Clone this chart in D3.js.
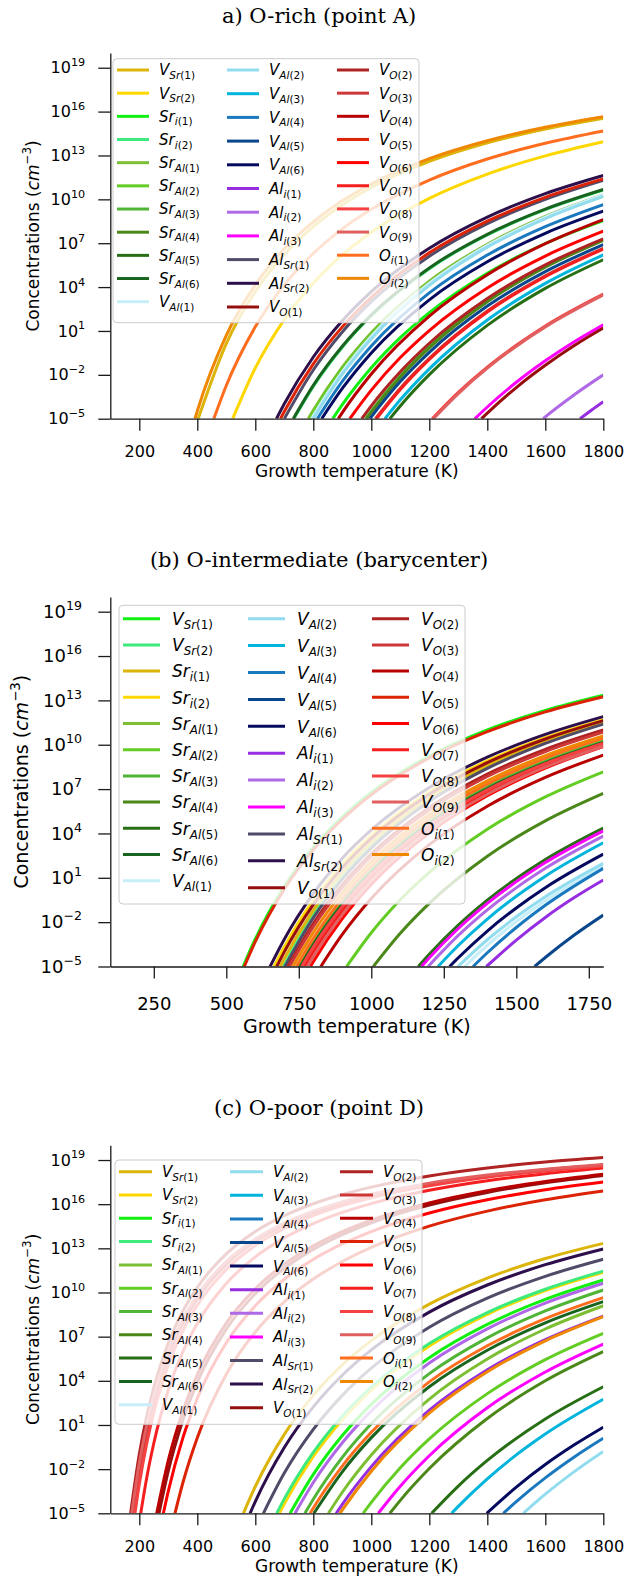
<!DOCTYPE html>
<html>
<head>
<meta charset="utf-8">
<script src="https://cdn.jsdelivr.net/npm/d3@7"></script>
<style>
  body { margin: 0; background: #fff; }
  text { font-family: "DejaVu Sans", sans-serif; }
</style>
</head>
<body>
<div id="chart"></div>
<script>

// defect labels: [main symbol, subscript letters, subscript index]
var defectLabels = [
  ['V','Sr','(1)'], ['V','Sr','(2)'], ['Sr','i','(1)'], ['Sr','i','(2)'],
  ['Sr','Al','(1)'], ['Sr','Al','(2)'], ['Sr','Al','(3)'], ['Sr','Al','(4)'], ['Sr','Al','(5)'], ['Sr','Al','(6)'],
  ['V','Al','(1)'], ['V','Al','(2)'], ['V','Al','(3)'], ['V','Al','(4)'], ['V','Al','(5)'], ['V','Al','(6)'],
  ['Al','i','(1)'], ['Al','i','(2)'], ['Al','i','(3)'], ['Al','Sr','(1)'], ['Al','Sr','(2)'],
  ['V','O','(1)'], ['V','O','(2)'], ['V','O','(3)'], ['V','O','(4)'], ['V','O','(5)'],
  ['V','O','(6)'], ['V','O','(7)'], ['V','O','(8)'], ['V','O','(9)'],
  ['O','i','(1)'], ['O','i','(2)']
];

// colours for panels a and c
var colorsAC = [
  '#dcb40a', '#ffd700', '#12f012', '#3deb7d',
  '#7dbf32', '#64cd23', '#50b437', '#4b8719', '#286e14', '#19641e',
  '#c8eef8', '#91dcee', '#00b4dc', '#1978be', '#0a468c', '#050a5f',
  '#962de1', '#af69e6', '#ff00ff', '#504b69', '#2d0f4b',
  '#960f0f', '#af2323', '#cd3737', '#b90000', '#dc2305',
  '#ff0000', '#f51e1e', '#f54141', '#e15f5f',
  '#ff6e1e', '#f08700'
];
// panel b swaps the first four colours
var colorsB = ['#12f012', '#3deb7d', '#dcb40a', '#ffd700'].concat(colorsAC.slice(4));

var panelTitles = ['a) O-rich (point A)', '(b) O-intermediate (barycenter)', '(c) O-poor (point D)'];
var tempTicksAC = [200, 400, 600, 800, 1000, 1200, 1400, 1600, 1800];
var tempTicksB = [250, 500, 750, 1000, 1250, 1500, 1750];
var concTickExps = [-5, -2, 1, 4, 7, 10, 13, 16, 19];

// curves: [temperature K, log10 concentration], legend order
var orichCurves = [
  [[403,-5],[500,0.14],[600,3.69],[700,6.23],[800,8.14],[900,9.62],[1000,10.81],[1200,12.59],[1400,13.86],[1600,14.81],[1800,15.55]],
  [[522,-5],[600,-1.53],[700,1.78],[800,4.27],[900,6.2],[1000,7.75],[1200,10.07],[1400,11.73],[1600,12.97],[1800,13.94]],
  [[867,-5],[900,-4.04],[1000,-1.52],[1100,0.54],[1200,2.25],[1400,4.95],[1600,6.98],[1800,8.55]],
  [[733,-5],[800,-2.79],[900,-0.11],[1000,2.04],[1200,5.26],[1400,7.56],[1600,9.29],[1800,10.63]],
  [[783,-5],[800,-4.43],[900,-1.48],[1000,0.88],[1200,4.41],[1400,6.93],[1600,8.83],[1800,10.3]],
  [[788,-5],[800,-4.59],[900,-1.63],[1000,0.74],[1200,4.29],[1400,6.83],[1600,8.74],[1800,10.22]],
  [[980,-5],[1000,-4.46],[1100,-2.06],[1200,-0.06],[1400,3.08],[1600,5.44],[1800,7.27]],
  [[984,-5],[1000,-4.57],[1100,-2.16],[1200,-0.16],[1400,3.0],[1600,5.36],[1800,7.2]],
  [[1064,-5],[1100,-4.13],[1200,-1.99],[1400,1.38],[1600,3.91],[1800,5.87]],
  [[731,-5],[800,-2.72],[900,-0.05],[1000,2.1],[1200,5.31],[1400,7.61],[1600,9.33],[1800,10.67]],
  [[794,-5],[800,-4.8],[900,-1.78],[1000,0.64],[1200,4.26],[1400,6.85],[1600,8.79],[1800,10.3]],
  [[800,-5],[900,-1.96],[1000,0.47],[1200,4.12],[1400,6.73],[1600,8.68],[1800,10.2]],
  [[1047,-5],[1100,-3.71],[1200,-1.59],[1400,1.75],[1600,4.25],[1800,6.2]],
  [[814,-5],[900,-2.45],[1000,-0.03],[1200,3.6],[1400,6.19],[1600,8.13],[1800,9.64]],
  [[995,-5],[1000,-4.87],[1100,-2.46],[1200,-0.46],[1400,2.7],[1600,5.06],[1800,6.9]],
  [[829,-5],[900,-2.93],[1000,-0.5],[1200,3.13],[1400,5.73],[1600,7.68],[1800,9.19]],
  [[1720,-5],[1760,-4.41],[1800,-3.84]],
  [[1593,-5],[1600,-4.88],[1700,-3.36],[1800,-2.0]],
  [[1357,-5],[1400,-4.2],[1500,-2.51],[1600,-1.04],[1700,0.26],[1800,1.42]],
  [[700,-5],[800,-1.67],[900,0.93],[1000,3.0],[1200,6.11],[1400,8.34],[1600,10.0],[1800,11.3]],
  [[673,-5],[700,-3.98],[800,-0.78],[900,1.7],[1000,3.69],[1200,6.66],[1400,8.79],[1600,10.39],[1800,11.63]],
  [[1380,-5],[1400,-4.62],[1500,-2.87],[1600,-1.35],[1700,0.0],[1800,1.2]],
  [[967,-5],[1000,-4.12],[1100,-1.79],[1200,0.16],[1400,3.22],[1600,5.52],[1800,7.3]],
  [[1014,-5],[1100,-2.91],[1200,-0.87],[1400,2.36],[1600,4.77],[1800,6.65]],
  [[886,-5],[900,-4.58],[1000,-1.94],[1200,2.02],[1400,4.85],[1600,6.97],[1800,8.62]],
  [[687,-5],[700,-4.51],[800,-1.25],[900,1.28],[1000,3.3],[1200,6.34],[1400,8.51],[1600,10.14],[1800,11.4]],
  [[926,-5],[1000,-3.05],[1100,-0.82],[1200,1.03],[1400,3.94],[1600,6.12],[1800,7.82]],
  [[1018,-5],[1100,-3.01],[1200,-0.95],[1400,2.29],[1600,4.71],[1800,6.6]],
  [[1210,-5],[1300,-3.2],[1400,-1.47],[1500,0.02],[1600,1.34],[1800,3.52]],
  [[1214,-5],[1300,-3.28],[1400,-1.54],[1500,-0.04],[1600,1.28],[1800,3.47]],
  [[457,-5],[500,-2.73],[600,1.28],[700,4.15],[800,6.3],[900,7.98],[1000,9.32],[1200,11.32],[1400,12.76],[1600,13.83],[1800,14.67]],
  [[392,-5],[400,-4.47],[500,0.7],[600,4.15],[700,6.62],[800,8.46],[900,9.9],[1000,11.05],[1200,12.78],[1400,14.01],[1600,14.93],[1800,15.65]]
];

var ointCurves = [
  [[558,-5],[600,-3.14],[700,0.4],[800,3.05],[900,5.11],[1000,6.76],[1200,9.23],[1400,11.0],[1600,12.32],[1800,13.35]],
  [[697,-5],[700,-4.89],[800,-1.54],[900,1.05],[1000,3.13],[1200,6.25],[1400,8.48],[1600,10.15],[1800,11.45]],
  [[686,-5],[700,-4.47],[800,-1.2],[900,1.34],[1000,3.37],[1200,6.42],[1400,8.6],[1600,10.23],[1800,11.5]],
  [[665,-5],[700,-3.68],[800,-0.53],[900,1.92],[1000,3.87],[1200,6.81],[1400,8.91],[1600,10.48],[1800,11.7]],
  [[745,-5],[800,-3.2],[900,-0.51],[1000,1.66],[1200,4.9],[1400,7.21],[1600,8.95],[1800,10.3]],
  [[915,-5],[1000,-2.72],[1100,-0.49],[1200,1.36],[1400,4.28],[1600,6.47],[1800,8.17]],
  [[750,-5],[800,-3.37],[900,-0.66],[1000,1.51],[1200,4.77],[1400,7.1],[1600,8.84],[1800,10.2]],
  [[1007,-5],[1100,-2.75],[1200,-0.73],[1400,2.46],[1600,4.85],[1800,6.71]],
  [[1162,-5],[1200,-4.17],[1300,-2.2],[1400,-0.51],[1600,2.23],[1800,4.36]],
  [[755,-5],[800,-3.53],[900,-0.8],[1000,1.39],[1200,4.68],[1400,7.02],[1600,8.78],[1800,10.15]],
  [[1322,-5],[1400,-3.57],[1500,-1.96],[1600,-0.55],[1800,1.8]],
  [[1299,-5],[1400,-3.19],[1500,-1.64],[1600,-0.28],[1800,1.98]],
  [[1230,-5],[1300,-3.58],[1400,-1.79],[1600,1.11],[1800,3.37]],
  [[1351,-5],[1400,-4.07],[1500,-2.36],[1600,-0.86],[1800,1.64]],
  [[1563,-5],[1600,-4.39],[1700,-2.87],[1800,-1.52]],
  [[1270,-5],[1300,-4.41],[1400,-2.6],[1500,-1.04],[1600,0.33],[1800,2.6]],
  [[1397,-5],[1500,-3.21],[1600,-1.68],[1700,-0.34],[1800,0.85]],
  [[1196,-5],[1300,-2.9],[1400,-1.17],[1600,1.64],[1800,3.82]],
  [[1173,-5],[1200,-4.41],[1300,-2.43],[1400,-0.73],[1600,2.03],[1800,4.18]],
  [[702,-5],[800,-1.71],[900,0.91],[1000,3.01],[1200,6.16],[1400,8.4],[1600,10.09],[1800,11.4]],
  [[651,-5],[700,-3.15],[800,-0.07],[900,2.32],[1000,4.24],[1200,7.11],[1400,9.16],[1600,10.7],[1800,11.9]],
  [[674,-5],[700,-4.01],[800,-0.81],[900,1.68],[1000,3.67],[1200,6.65],[1400,8.79],[1600,10.39],[1800,11.63]],
  [[712,-5],[800,-2.09],[900,0.53],[1000,2.62],[1200,5.76],[1400,8.01],[1600,9.69],[1800,11.0]],
  [[718,-5],[800,-2.3],[900,0.33],[1000,2.44],[1200,5.59],[1400,7.85],[1600,9.54],[1800,10.85]],
  [[826,-5],[900,-2.83],[1000,-0.4],[1200,3.24],[1400,5.84],[1600,7.79],[1800,9.3]],
  [[562,-5],[600,-3.32],[700,0.23],[800,2.89],[900,4.96],[1000,6.62],[1200,9.11],[1400,10.88],[1600,12.22],[1800,13.25]],
  [[790,-5],[800,-4.67],[900,-1.76],[1000,0.57],[1200,4.05],[1400,6.55],[1600,8.42],[1800,9.87]],
  [[770,-5],[800,-4.02],[900,-1.22],[1000,1.03],[1200,4.39],[1400,6.8],[1600,8.6],[1800,10.0]],
  [[760,-5],[800,-3.69],[900,-0.94],[1000,1.27],[1200,4.58],[1400,6.95],[1600,8.72],[1800,10.1]],
  [[780,-5],[800,-4.34],[900,-1.49],[1000,0.79],[1200,4.2],[1400,6.65],[1600,8.48],[1800,9.9]],
  [[742,-5],[800,-3.09],[900,-0.39],[1000,1.78],[1200,5.03],[1400,7.35],[1600,9.1],[1800,10.45]],
  [[730,-5],[800,-2.7],[900,-0.04],[1000,2.09],[1200,5.28],[1400,7.56],[1600,9.27],[1800,10.6]]
];

var opoorCurves = [
  [[559,-5],[600,-3.18],[700,0.36],[800,3.01],[900,5.08],[1000,6.73],[1200,9.21],[1400,10.98],[1600,12.31],[1800,13.34]],
  [[683,-5],[700,-4.36],[800,-1.14],[900,1.36],[1000,3.37],[1200,6.37],[1400,8.52],[1600,10.13],[1800,11.38]],
  [[720,-5],[800,-2.36],[900,0.28],[1000,2.4],[1200,5.57],[1400,7.83],[1600,9.53],[1800,10.85]],
  [[674,-5],[700,-4.02],[800,-0.86],[900,1.6],[1000,3.57],[1200,6.53],[1400,8.64],[1600,10.22],[1800,11.45]],
  [[852,-5],[900,-3.57],[1000,-1.04],[1200,2.76],[1400,5.48],[1600,7.52],[1800,9.1]],
  [[972,-5],[1000,-4.26],[1100,-1.91],[1200,0.05],[1400,3.13],[1600,5.44],[1800,7.23]],
  [[771,-5],[800,-4.04],[900,-1.2],[1000,1.08],[1200,4.49],[1400,6.92],[1600,8.75],[1800,10.17]],
  [[1064,-5],[1100,-4.12],[1200,-1.96],[1400,1.44],[1600,4.0],[1800,5.98]],
  [[1208,-5],[1300,-3.15],[1400,-1.41],[1600,1.41],[1800,3.6]],
  [[802,-5],[900,-2.18],[1000,0.14],[1200,3.6],[1400,6.08],[1600,7.94],[1800,9.38]],
  [[1700,-6.9],[1800,-5.6]],
  [[1524,-5],[1600,-3.7],[1700,-2.17],[1800,-0.8]],
  [[1277,-5],[1300,-4.53],[1400,-2.66],[1500,-1.03],[1600,0.39],[1800,2.75]],
  [[1455,-5],[1500,-4.2],[1600,-2.59],[1700,-1.17],[1800,0.1]],
  [[1700,-7.6],[1800,-6.3]],
  [[1398,-5],[1500,-3.22],[1600,-1.69],[1700,-0.35],[1800,0.85]],
  [[879,-5],[900,-4.39],[1000,-1.83],[1200,2.0],[1400,4.75],[1600,6.8],[1800,8.4]],
  [[737,-5],[800,-2.91],[900,-0.21],[1000,1.96],[1200,5.21],[1400,7.53],[1600,9.28],[1800,10.63]],
  [[1024,-5],[1100,-3.16],[1200,-1.09],[1400,2.17],[1600,4.6],[1800,6.5]],
  [[628,-5],[700,-2.27],[800,0.7],[900,3.01],[1000,4.86],[1200,7.64],[1400,9.62],[1600,11.1],[1800,12.26]],
  [[582,-5],[600,-4.2],[700,-0.53],[800,2.23],[900,4.38],[1000,6.1],[1200,8.67],[1400,10.51],[1600,11.89],[1800,12.96]],
  [[268,-5],[300,-2.12],[350,1.32],[400,3.9],[500,7.51],[600,9.92],[700,11.64],[800,12.93],[900,13.93],[1000,14.74],[1200,15.94],[1400,16.8],[1600,17.45],[1800,17.95]],
  [[170,-5],[200,-0.99],[225,1.53],[250,3.54],[300,6.57],[350,8.73],[400,10.35],[500,12.62],[600,14.14],[700,15.22],[800,16.03],[900,16.66],[1000,17.16],[1200,17.92],[1400,18.46],[1600,18.87],[1800,19.18]],
  [[178,-5],[200,-2.11],[225,0.48],[250,2.56],[300,5.68],[350,7.9],[400,9.57],[500,11.91],[600,13.47],[700,14.58],[800,15.41],[900,16.06],[1000,16.58],[1200,17.36],[1400,17.92],[1600,18.34],[1800,18.66]],
  [[260,-5],[300,-1.41],[350,1.92],[400,4.42],[500,7.92],[600,10.25],[700,11.92],[800,13.17],[900,14.14],[1000,14.92],[1200,16.09],[1400,16.92],[1600,17.54],[1800,18.03]],
  [[323,-5],[350,-2.94],[400,0.14],[500,4.45],[600,7.32],[700,9.37],[800,10.91],[900,12.11],[1000,13.07],[1200,14.51],[1400,15.53],[1600,16.3],[1800,16.9]],
  [[283,-5],[300,-3.49],[350,0.11],[400,2.81],[500,6.59],[600,9.1],[700,10.9],[800,12.25],[900,13.3],[1000,14.14],[1200,15.4],[1400,16.3],[1600,16.98],[1800,17.5]],
  [[205,-5],[225,-2.65],[250,-0.24],[300,3.38],[350,5.96],[400,7.9],[500,10.61],[600,12.42],[700,13.71],[800,14.68],[900,15.44],[1000,16.04],[1200,16.94],[1400,17.59],[1600,18.07],[1800,18.45]],
  [[185,-5],[200,-3.03],[225,-0.32],[250,1.84],[300,5.08],[350,7.4],[400,9.14],[500,11.57],[600,13.19],[700,14.35],[800,15.22],[900,15.9],[1000,16.44],[1200,17.25],[1400,17.83],[1600,18.26],[1800,18.6]],
  [[174,-5],[200,-1.59],[225,0.95],[250,2.98],[300,6.02],[350,8.19],[400,9.82],[500,12.11],[600,13.63],[700,14.71],[800,15.53],[900,16.16],[1000,16.67],[1200,17.43],[1400,17.98],[1600,18.38],[1800,18.7]],
  [[789,-5],[800,-4.64],[900,-1.79],[1000,0.5],[1200,3.93],[1400,6.38],[1600,8.22],[1800,9.65]],
  [[892,-5],[900,-4.77],[1000,-2.14],[1200,1.8],[1400,4.61],[1600,6.72],[1800,8.36]]
];

// layout of the three stacked panels
var panels = [
  { id: 'a', title: panelTitles[0], curves: orichCurves, colors: colorsAC, ticks: tempTicksAC,
    titleY: 22.5, yTop: 53.1, yBot: 418.7, tickFont: 16, labelFont: 17, xPad: 15.3, yPad: 13.1,
    ylabelX: 38.5, xlabelY: 477,
    legend: { box: [113, 58.7, 419, 322.7], handleX: [117, 227, 337], handleLen: 32, textGap: 42,
              rowY: 70, steps: [23.17, 23.7, 23.15], font: 15 } },
  { id: 'b', title: panelTitles[1], curves: ointCurves, colors: colorsB, ticks: tempTicksB,
    titleY: 566.5, yTop: 596.9, yBot: 966.5, tickFont: 18, labelFont: 19, xPad: 19.1, yPad: 16.3,
    ylabelX: 27.5, xlabelY: 1033,
    legend: { box: [119, 605.3, 465, 904], handleX: [123, 248, 372], handleLen: 37, textGap: 49,
              rowY: 618.7, steps: [26.2, 26.9, 26.2], font: 17 } },
  { id: 'c', title: panelTitles[2], curves: opoorCurves, colors: colorsAC, ticks: tempTicksAC,
    titleY: 1115, yTop: 1145.3, yBot: 1513.3, tickFont: 16, labelFont: 17, xPad: 15.3, yPad: 13.1,
    ylabelX: 38.5, xlabelY: 1572,
    legend: { box: [115, 1160, 422, 1424.3], handleX: [119, 230, 340], handleLen: 33, textGap: 43,
              rowY: 1171.7, steps: [23.3, 23.6, 23.3], font: 15 } }
];

var svg = d3.select('#chart').append('svg')
    .attr('width', 626)
    .attr('height', 1581);

panels.forEach(function(p) { drawPanel(p); });

function drawPanel(p) {
  var x = d3.scaleLinear().domain([100, 1800]).range([110.3, 603.3]);
  var y = d3.scaleLog().domain([1e-5, 1e20]).range([p.yBot, p.yTop]);
  var g = svg.append('g').attr('class', 'panel-' + p.id);

  // title
  g.append('text')
    .attr('x', 319)
    .attr('y', p.titleY)
    .attr('text-anchor', 'middle')
    .style('font-family', '"DejaVu Serif", serif')
    .attr('font-size', 21)
    .text(p.title);

  // clip to the plot area
  var clipId = 'clip-' + p.id;
  svg.append('clipPath').attr('id', clipId)
    .append('rect')
    .attr('x', x(100))
    .attr('y', p.yTop)
    .attr('width', x(1800) - x(100))
    .attr('height', p.yBot - p.yTop);

  var line = d3.line()
    .x(function(d) { return x(d[0]); })
    .y(function(d) { return y(Math.pow(10, d[1])); })
    .curve(d3.curveMonotoneX);

  g.append('g')
    .attr('clip-path', 'url(#' + clipId + ')')
    .selectAll('path')
    .data(p.curves)
    .enter().append('path')
    .attr('d', line)
    .attr('fill', 'none')
    .attr('stroke', function(d, i) { return p.colors[i]; })
    .attr('stroke-width', 3);

  // x axis, plain integer labels
  var gx = g.append('g')
    .attr('transform', 'translate(0,' + p.yBot + ')')
    .call(d3.axisBottom(x).tickValues(p.ticks).tickFormat(d3.format('d'))
      .tickSize(12).tickSizeOuter(0).tickPadding(p.xPad));
  gx.attr('font-family', '"DejaVu Sans", sans-serif').attr('font-size', p.tickFont);

  // y axis, labels as 10^n
  var gy = g.append('g')
    .attr('transform', 'translate(' + x(100) + ',0)')
    .call(d3.axisLeft(y)
      .tickValues(concTickExps.map(function(e) { return Math.pow(10, e); }))
      .tickSize(12).tickSizeOuter(0).tickPadding(p.yPad));
  gy.attr('font-family', '"DejaVu Sans", sans-serif').attr('font-size', p.tickFont);
  gy.selectAll('.tick text').text(null).each(function(d) {
    var e = Math.round(Math.log10(d));
    var t = d3.select(this);
    t.append('tspan').text('10');
    t.append('tspan')
      .attr('dy', -0.45 * p.tickFont)
      .attr('font-size', 0.7 * p.tickFont)
      .text(e < 0 ? '\u2212' + (-e) : e);
  });

  [gx, gy].forEach(function(a) {
    a.selectAll('path, line').attr('stroke', '#1a1a1a').attr('stroke-width', 1.3);
    a.selectAll('text').attr('fill', '#000');
  });

  // axis labels
  g.append('text')
    .attr('x', (x(100) + x(1800)) / 2)
    .attr('y', p.xlabelY)
    .attr('text-anchor', 'middle')
    .attr('font-size', p.labelFont)
    .text('Growth temperature (K)');

  var yl = g.append('text')
    .attr('transform', 'translate(' + p.ylabelX + ',' + ((p.yTop + p.yBot) / 2) + ') rotate(-90)')
    .attr('text-anchor', 'middle')
    .attr('font-size', p.labelFont);
  yl.append('tspan').text('Concentrations (');
  yl.append('tspan').attr('font-style', 'italic').text('cm');
  yl.append('tspan').attr('dy', -0.42 * p.labelFont).attr('font-size', 0.7 * p.labelFont).text('\u22123');
  yl.append('tspan').attr('dy', 0.42 * p.labelFont).text(')');

  drawLegend(g, p);
}

function drawLegend(g, p) {
  var L = p.legend;
  var lg = g.append('g').attr('class', 'legend');

  lg.append('rect')
    .attr('x', L.box[0])
    .attr('y', L.box[1])
    .attr('width', L.box[2] - L.box[0])
    .attr('height', L.box[3] - L.box[1])
    .attr('rx', 4)
    .attr('fill', '#fff')
    .attr('fill-opacity', 0.8)
    .attr('stroke', '#cccccc')
    .attr('stroke-width', 1);

  defectLabels.forEach(function(lab, i) {
    // 11 + 11 + 10 entries per column
    var col = i < 11 ? 0 : (i < 22 ? 1 : 2);
    var row = col === 0 ? i : (col === 1 ? i - 11 : i - 22);
    var ry = L.rowY + row * L.steps[col];
    var hx = L.handleX[col];

    lg.append('line')
      .attr('x1', hx).attr('x2', hx + L.handleLen)
      .attr('y1', ry).attr('y2', ry)
      .attr('stroke', p.colors[i])
      .attr('stroke-width', 3);

    var t = lg.append('text')
      .attr('x', hx + L.textGap)
      .attr('y', ry + 0.365 * L.font)
      .attr('font-size', L.font);
    t.append('tspan').attr('font-style', 'italic').text(lab[0]);
    t.append('tspan')
      .attr('font-style', 'italic')
      .attr('font-size', 0.7 * L.font)
      .attr('dy', 0.24 * L.font)
      .text(lab[1]);
    t.append('tspan').attr('font-size', 0.7 * L.font).text(lab[2]);
  });
}

</script>
</body>
</html>
